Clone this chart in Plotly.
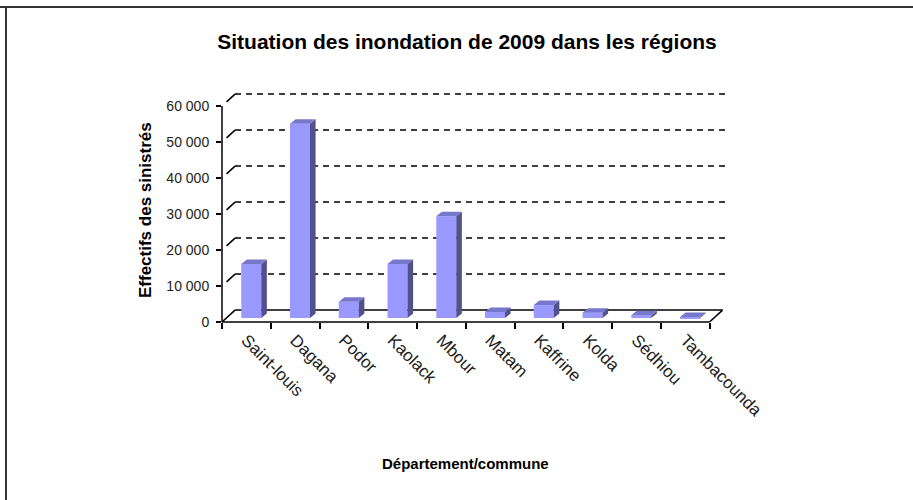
import plotly.graph_objects as go

# Données
departements = ['Saint-louis', 'Dagana', 'Podor', 'Kaolack', 'Mbour',
                'Matam', 'Kaffrine', 'Kolda', 'Sédhiou', 'Tambacounda']
sinistres = [15000, 54000, 4500, 15000, 28300, 1700, 3600, 1500, 800, 300]
graduations = [0, 10000, 20000, 30000, 40000, 50000, 60000]

# Pseudo-3D (unités des axes)
profondeur_x = 0.267     # décalage du fond
profondeur_y = 3300
barre_dx = 0.115         # épaisseur des barres
barre_dy = 1250
leve = 1100              # barres posées au milieu de la profondeur
largeur = 0.41
decal = 0.1

pos = list(range(len(departements)))
bornes = [p - 0.5 for p in pos] + [pos[-1] + 0.5]

fig = go.Figure()

fig.add_trace(go.Bar(
    x=pos, y=sinistres, base=[leve] * len(pos),
    width=largeur, offset=-largeur / 2 + decal,
    marker=dict(color='#9999FF', line=dict(width=0)),
    showlegend=False, hoverinfo='skip'))

shapes = []

# Murs et sol
x_g, x_d = bornes[0], bornes[-1]
for v in graduations[1:]:
    shapes.append(dict(type='line', xref='x', yref='y',
                       x0=x_g + profondeur_x, x1=x_d + profondeur_x + 0.05,
                       y0=v + profondeur_y, y1=v + profondeur_y,
                       line=dict(color='black', width=1.5, dash='6px,5px'),
                       layer='below'))
    shapes.append(dict(type='line', xref='x', yref='y',
                       x0=x_g + profondeur_x * 0.35, x1=x_g + profondeur_x,
                       y0=v + profondeur_y * 0.35, y1=v + profondeur_y,
                       line=dict(color='black', width=1.5), layer='below'))
shapes.append(dict(type='line', xref='x', yref='y',
                   x0=x_g + profondeur_x, x1=x_d + profondeur_x,
                   y0=profondeur_y, y1=profondeur_y,
                   line=dict(color='black', width=1.5), layer='below'))
for xb in (x_g, x_d):
    shapes.append(dict(type='line', xref='x', yref='y',
                       x0=xb, x1=xb + profondeur_x, y0=0, y1=profondeur_y,
                       line=dict(color='black', width=1.5), layer='below'))
shapes.append(dict(type='line', xref='x', yref='paper',
                   x0=x_g, x1=x_d, y0=0, y1=0,
                   line=dict(color='black', width=1.5)))
shapes.append(dict(type='line', xref='paper', yref='y',
                   x0=0, x1=0, y0=0, y1=graduations[-1],
                   line=dict(color='black', width=1.5)))

# Faces latérales et supérieures des barres
for p, v in zip(pos, sinistres):
    xl = p - largeur / 2 + decal
    xr = xl + largeur
    b, h = leve, leve + v
    shapes.append(dict(type='path', xref='x', yref='y',
                       path=f'M{xr},{b} L{xr},{h} L{xr + barre_dx},{h + barre_dy} '
                            f'L{xr + barre_dx},{b + barre_dy} Z',
                       fillcolor='#51518E', line=dict(width=0)))
    shapes.append(dict(type='path', xref='x', yref='y',
                       path=f'M{xl},{h} L{xr},{h} L{xr + barre_dx},{h + barre_dy} '
                            f'L{xl + barre_dx},{h + barre_dy} Z',
                       fillcolor='#7777CC', line=dict(width=0)))

# Cadre
shapes.append(dict(type='line', xref='paper', yref='paper',
                   x0=-222 / 508, x1=691 / 508, y0=(322 - 7) / 234, y1=(322 - 7) / 234,
                   line=dict(color='#333333', width=2)))
shapes.append(dict(type='line', xref='paper', yref='paper',
                   x0=-216 / 508, x1=-216 / 508, y0=(322 - 7) / 234, y1=-178 / 234,
                   line=dict(color='#333333', width=2)))

fig.update_layout(
    width=913, height=500,
    margin=dict(l=222, r=183, t=88, b=178),
    paper_bgcolor='white', plot_bgcolor='white',
    separators=', ',
    font=dict(family='Liberation Sans, Arial, sans-serif', color='black', size=13),
    title=dict(text='<b>Situation des inondation de 2009 dans les régions</b>',
               x=467 / 913, xanchor='center', y=1 - 42 / 500, yanchor='middle',
               yref='container', font=dict(size=21, color='black')),
    xaxis=dict(range=[-0.5, 9.92], tickmode='array', tickvals=pos,
               ticktext=departements, tickangle=45, ticks='', ticklen=0,
               ticklabelstandoff=4,
               showgrid=False, zeroline=False, showline=False,
               tickfont=dict(size=17, color='#222222'),
               minor=dict(tickmode='array', tickvals=bornes, ticks='outside',
                          ticklen=6, tickwidth=1.5, tickcolor='black', showgrid=False)),
    yaxis=dict(range=[0, 65000], tickmode='array', tickvals=graduations,
               tickformat=',d', ticks='outside', ticklen=5, tickwidth=1.5,
               ticklabelstandoff=4,
               tickcolor='black', showgrid=False, zeroline=False, showline=False,
               tickfont=dict(size=14, color='#222222')),
    shapes=shapes,
    annotations=[
        dict(text='<b>Effectifs des sinistrés</b>', xref='paper', yref='paper',
             x=(145 - 222) / 508, y=(322 - 210) / 234, textangle=-90,
             xanchor='center', yanchor='middle',
             showarrow=False, font=dict(size=17)),
        dict(text='<b>Département/commune</b>', xref='paper', yref='paper',
             x=(465 - 222) / 508, y=(322 - 463) / 234,
             xanchor='center', yanchor='middle',
             showarrow=False, font=dict(size=15)),
    ],
)

fig.write_html('out.html', config={'displayModeBar': False},
               post_script="document.body.style.margin='0';"
                           "document.body.style.overflow='hidden';")
